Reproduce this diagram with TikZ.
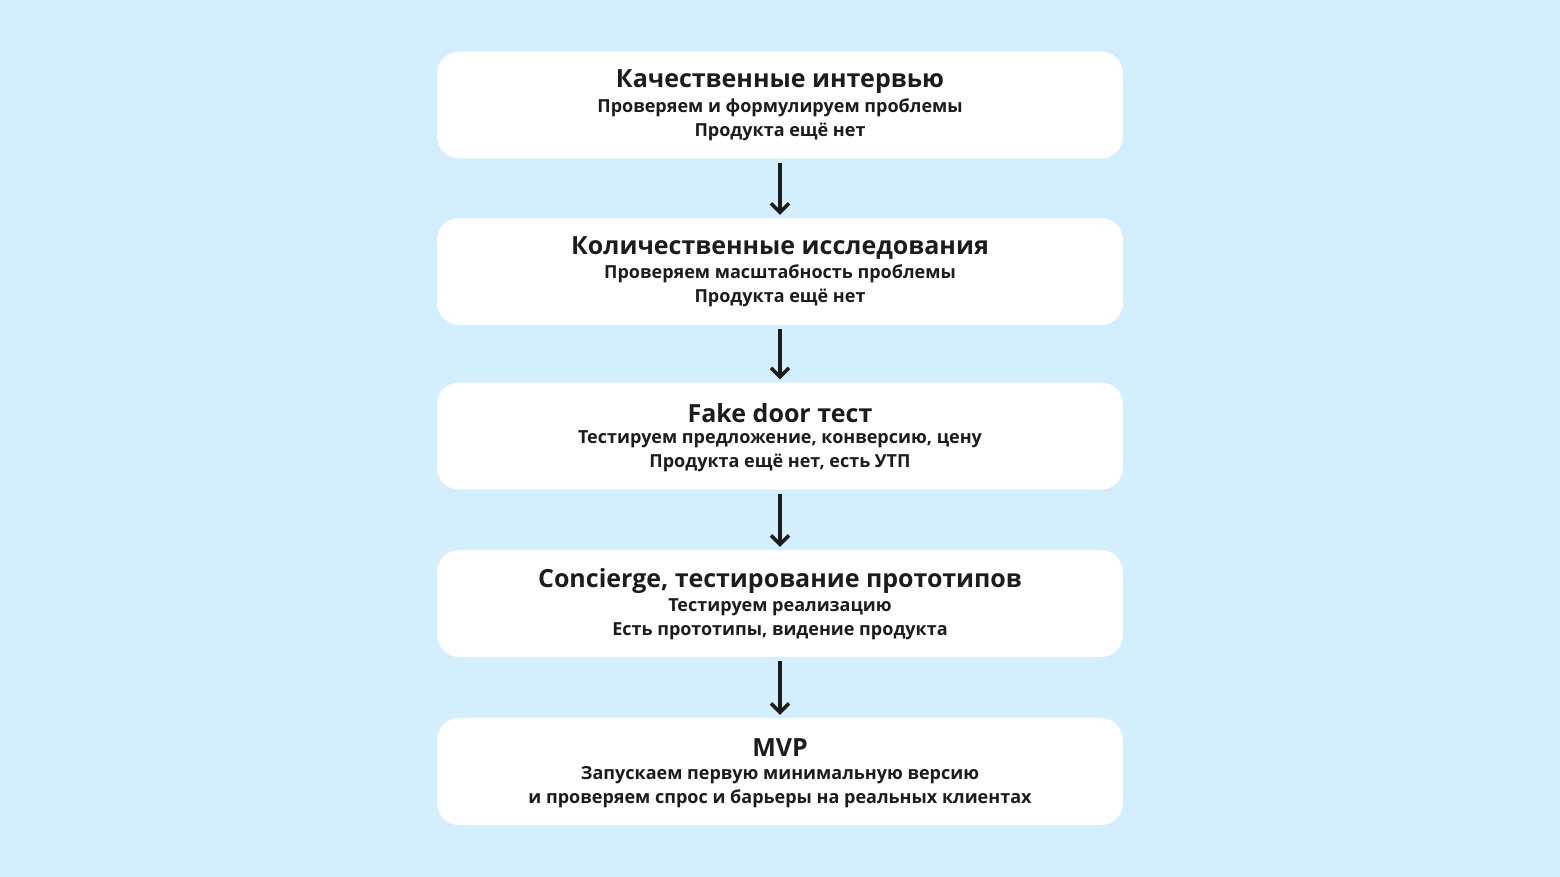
\documentclass[tikz,border=0pt]{standalone}
\usepackage{fontspec}
\setmainfont{Open Sans}
\usetikzlibrary{arrows.meta}
\definecolor{bg}{HTML}{D3EEFC}
\definecolor{ink}{HTML}{1C1C1C}
\begin{document}
\begin{tikzpicture}[x=1pt,y=-1pt,
  card/.style={fill=white,draw=none,rounded corners=22pt,minimum width=686pt,minimum height=107pt,inner sep=0pt},
  ttl/.style={font=\fontsize{25}{28}\selectfont\bfseries,text=ink},
  sub/.style={font=\fontsize{18}{24}\selectfont\bfseries,text=ink,align=center},
  arr/.style={draw=ink,line width=3.5pt,-{Straight Barb[length=9pt,width=18pt,line width=3.5pt]}}]
\fill[bg] (0,0) rectangle (1560,877);
\useasboundingbox (0,0) rectangle (1560,877);
\foreach \n/\y in {a/105,b/271.5,c/436,d/603.5,e/771.5}{\node[card] (\n) at (780,\y) {};}
\node[ttl] (at) at (780,82) {Качественные интервью};
\node[sub] (as) at (780,120) {Проверяем и формулируем проблемы\\Продукта ещё нет};
\node[ttl] (bt) at (780,248) {Количественные исследования};
\node[sub] (bs) at (780,286) {Проверяем масштабность проблемы\\Продукта ещё нет};
\node[ttl] (ct) at (780,413) {Fake door тест};
\node[sub] (cs) at (780,451) {Тестируем предложение, конверсию, цену\\Продукта ещё нет, есть УТП};
\node[ttl] (dt) at (780,581) {Concierge, тестирование прототипов};
\node[sub] (ds) at (780,619) {Тестируем реализацию\\Есть прототипы, видение продукта};
\node[ttl] (et) at (780,748) {MVP};
\node[sub] (es) at (780,787) {Запускаем первую минимальную версию\\и проверяем спрос и барьеры на реальных клиентах};
\draw[arr] ([yshift=-4pt]a.south) -- ([yshift=3pt]b.north);
\draw[arr] ([yshift=-4pt]b.south) -- ([yshift=3pt]c.north);
\draw[arr] ([yshift=-4pt]c.south) -- ([yshift=3pt]d.north);
\draw[arr] ([yshift=-4pt]d.south) -- ([yshift=3pt]e.north);
\end{tikzpicture}
\end{document}
